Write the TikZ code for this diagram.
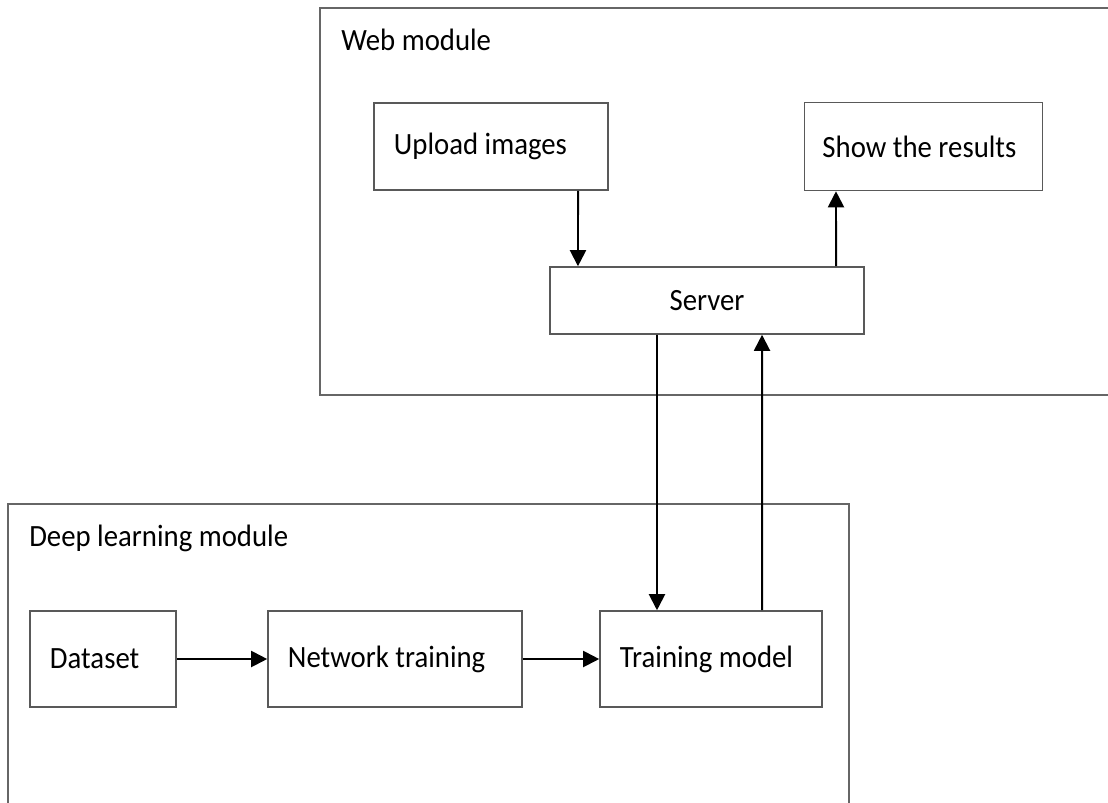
\documentclass[tikz,border=0pt]{standalone}
\usepackage{fontspec}
\setmainfont[FakeStretch=0.93]{Carlito}
\usepackage{tikz}
\usetikzlibrary{arrows.meta}

\begin{document}
\begin{tikzpicture} [x=0.025cm, y=-0.025cm,
	font=\fontsize{22}{26}\selectfont,
	module/.style={draw=black!60, line width=1pt},
	blk/.style={draw=black!65, line width=1.1pt, rectangle, align=flush left,
		inner xsep=0.5cm, inner ysep=0pt},
	arr/.style={-{Triangle[length=0.4cm, width=0.4cm]}, line width=1.4pt, black}]
	%    pixel grid, y runs downwards

	\clip (0,0) rectangle (1108,802);
	\fill[white] (0,0) rectangle (1108,802);

	% the two modules
	\draw[module] (320,8) rectangle (1130,395);
	\node[anchor=base west, inner sep=0pt] (weblbl) at (341,50) {Web module};
	\draw[module] (8,504) rectangle (849,830);
	\node[anchor=base west, inner sep=0pt] (dllbl) at (29,546) {Deep learning module};

	% web part
	\node[blk, text width=4.85cm, minimum height=2.175cm] (upload) at (491,146.5) {Upload images};
	\node[blk, text width=5.05cm, minimum height=2.2cm, inner xsep=0.45cm] (results) at (923.5,146.5) {Show the results};
	\node[blk, align=center, minimum width=7.85cm, minimum height=1.675cm] (server) at (707,300.5) {Server};

	% deep learning part
	\node[blk, text width=2.65cm, minimum height=2.4cm] (dataset) at (103,659) {Dataset};
	\node[blk, text width=5.35cm, minimum height=2.4cm] (nettrain) at (395,659) {Network training};
	\node[blk, text width=4.55cm, minimum height=2.4cm] (model) at (711,659) {Training model};

	\draw[arr] ([xshift=2.175cm]upload.south) -- ([xshift=-3.225cm]server.north);
	\draw[arr] ([xshift=3.225cm]server.north) -- ([xshift=-2.1875cm]results.south);
	\draw[arr] ([xshift=-1.25cm]server.south) -- ([xshift=-1.35cm]model.north);
	\draw[arr] ([xshift=1.275cm]model.north) -- ([xshift=1.375cm]server.south);
	\draw[arr] (dataset.east) -- (nettrain.west);
	\draw[arr] (nettrain.east) -- (model.west);

\end{tikzpicture}
\end{document}
